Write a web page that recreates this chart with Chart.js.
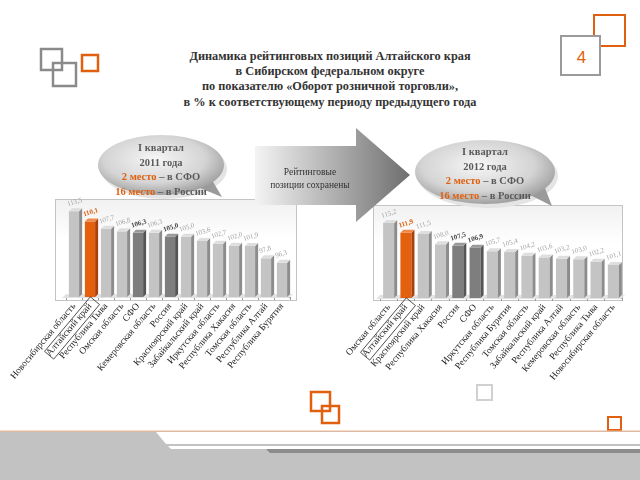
<!DOCTYPE html>
<html lang="ru">
<head>
<meta charset="UTF-8" />
<title>Оборот розничной торговли</title>
<script src="https://cdn.jsdelivr.net/npm/chart.js"></script>
<style>
  body { margin: 0; width: 640px; height: 480px; overflow: hidden; background: #fff; font-family: "Liberation Serif", "DejaVu Serif", serif; }
  .abs { position: absolute; }
  .title { left: 100px; top: 49px; width: 460px; text-align: center; font-weight: bold; font-size: 12.3px; line-height: 15.2px; color: #333; }
  .bubble { text-align: center; font-weight: bold; font-size: 10.5px; line-height: 14.5px; color: #5a5a5a; z-index: 3; }
  .bubble .o { color: #e0600f; }
  .frame { border: 1px solid #c4c4c4; background: linear-gradient(#f1f1f1, #fff 40%); }
  .arrowtxt { left: 245px; top: 166px; width: 130px; text-align: center; font-size: 9.5px; line-height: 13px; color: #333; z-index: 3; }
</style>
</head>
<body>
  <!-- decorations -->
  <svg class="abs" style="left:0;top:0;z-index:1" width="640" height="480">
    <defs>
      <linearGradient id="arr" x1="0" x2="1" y1="0" y2="0">
        <stop offset="0" stop-color="#f4f4f4"/>
        <stop offset="1" stop-color="#6e6e6e"/>
      </linearGradient>
      <radialGradient id="bub" cx="0.45" cy="0.4" r="0.62">
        <stop offset="0" stop-color="#f6f6f6"/>
        <stop offset="0.65" stop-color="#d4d4d4"/>
        <stop offset="1" stop-color="#9c9c9c"/>
      </radialGradient>
    </defs>
    <!-- top-left squares -->
    <rect x="41" y="49" width="21" height="21" fill="none" stroke="#8a8a8a" stroke-width="2.5"/>
    <rect x="53" y="63" width="23" height="23" fill="none" stroke="#8a8a8a" stroke-width="2.5"/>
    <rect x="82" y="55" width="16" height="16" fill="none" stroke="#e0600f" stroke-width="2.5"/>
    <!-- top-right page number -->
    <rect x="594" y="15" width="31" height="31" fill="none" stroke="#e0600f" stroke-width="2"/>
    <rect x="561" y="36" width="39" height="39" fill="#fff" stroke="#9a9a9a" stroke-width="2"/>
    <!-- arrow -->
    <polygon points="255,146 356,146 356,128 410,175 356,222 356,205 255,205" fill="url(#arr)"/>
    <!-- bubbles -->
    <ellipse cx="164" cy="169" rx="63" ry="30" fill="#e4e4e4"/>
    <polygon points="200,188 222,197 212,180" fill="#9a9a9a"/>
    <ellipse cx="161" cy="165" rx="63" ry="30" fill="url(#bub)"/>
    <ellipse cx="488" cy="176" rx="70" ry="32" fill="#e4e4e4"/>
    <polygon points="530,195 552,206 545,188" fill="#9a9a9a"/>
    <ellipse cx="485" cy="172" rx="70" ry="32" fill="url(#bub)"/>
    <!-- bottom squares -->
    <rect x="311" y="392" width="19" height="19" fill="none" stroke="#e0600f" stroke-width="2.5"/>
    <rect x="322" y="406" width="17" height="17" fill="none" stroke="#e0600f" stroke-width="2.5"/>
    <rect x="477" y="385" width="15" height="15" fill="none" stroke="#d0d0d0" stroke-width="2"/>
    <rect x="608" y="417" width="13" height="13" fill="none" stroke="#e0600f" stroke-width="2"/>
    <!-- bottom band -->
    <rect x="0" y="431" width="640" height="49" fill="#c2c2c2"/>
    <line x1="0" y1="431" x2="640" y2="431" stroke="#f2b48e" stroke-width="1"/>
    <polygon points="156,432 640,432 640,444 166,444" fill="#fff"/>
    <polygon points="168,446 640,446 640,449 171,449" fill="#fff"/>
    <polygon points="266,449 640,449 640,453 270,453" fill="#8c8c8c"/>
  </svg>
  <div class="abs" style="left:561px;top:48px;width:41px;text-align:center;font-family:'Liberation Sans',sans-serif;font-size:17px;color:#e0600f;z-index:2">4</div>

  <div class="abs title">Динамика рейтинговых позиций Алтайского края<br>в Сибирском федеральном округе<br>по показателю «Оборот розничной торговли»,<br>в % к соответствующему периоду предыдущего года</div>

  <div class="abs bubble" style="left:100px;top:141px;width:122px">I квартал<br>2011 года<br><span class="o">2 место</span> – в СФО<br><span class="o">16 место</span> – в России</div>
  <div class="abs bubble" style="left:420px;top:145px;width:130px">I квартал<br>2012 года<br><span class="o">2 место</span> – в СФО<br><span class="o">16 место</span> – в России</div>
  <div class="abs arrowtxt">Рейтинговые<br>позиции сохранены</div>

  <div class="abs frame" style="left:55px;top:199px;width:240px;height:100px;z-index:0"></div>
  <div class="abs frame" style="left:373px;top:205px;width:248px;height:94px;z-index:0"></div>

  <canvas id="c2011" class="abs" style="left:0;top:195px;z-index:2" width="300" height="210"></canvas>
  <canvas id="c2012" class="abs" style="left:310px;top:200px;z-index:2" width="330" height="205"></canvas>

<script>
// I квартал 2011 года
const labels2011 = ['Новосибирская область', 'Алтайский край', 'Республика Тыва', 'Омская область', 'СФО',
  'Кемеровская область', 'Россия', 'Красноярский край', 'Забайкальский край', 'Иркутская область',
  'Республика Хакасия', 'Томская область', 'Республика Алтай', 'Республика Бурятия'];
const values2011 = [113.5, 110.1, 107.7, 106.8, 106.3, 106.3, 105.0, 105.0, 103.6, 102.7, 102.0, 101.9, 97.8, 96.3];

// I квартал 2012 года
const labels2012 = ['Омская область', 'Алтайский край', 'Красноярский край', 'Республика Хакасия', 'Россия',
  'СФО', 'Иркутская область', 'Республика Бурятия', 'Томская область', 'Забайкальский край',
  'Республика Алтай', 'Кемеровская область', 'Республика Тыва', 'Новосибирская область'];
const values2012 = [115.2, 111.9, 111.5, 108.0, 107.5, 106.9, 105.7, 105.4, 104.2, 103.6, 103.2, 103.0, 102.2, 101.1];

const HOME = 'Алтайский край';
const DARK = ['СФО', 'Россия'];

function frontColor(l) { return l === HOME ? '#e2600e' : DARK.includes(l) ? '#7e7e7e' : '#c4c4c4'; }
function sideColor(l)  { return l === HOME ? '#a8410a' : DARK.includes(l) ? '#555' : '#8c8c8c'; }
function topColor(l)   { return l === HOME ? '#f08a4a' : DARK.includes(l) ? '#9a9a9a' : '#dedede'; }
function labelColor(l) { return l === HOME ? '#e0600f' : DARK.includes(l) ? '#444' : '#a4a4a4'; }

// 3D side/top faces, floor, value labels and the boxed home label
const bar3d = {
  id: 'bar3d',
  beforeDatasetsDraw(chart) {
    const { ctx, chartArea: a } = chart;
    ctx.save();
    ctx.fillStyle = '#e2e2e2';
    ctx.beginPath();
    ctx.moveTo(a.left - 4, a.bottom + 1);
    ctx.lineTo(a.left, a.bottom - 3);
    ctx.lineTo(a.right + 3, a.bottom - 3);
    ctx.lineTo(a.right - 1, a.bottom + 1);
    ctx.closePath();
    ctx.fill();
    ctx.restore();
  },
  afterDatasetsDraw(chart) {
    const ctx = chart.ctx;
    const labels = chart.data.labels;
    const vals = chart.data.datasets[0].data;
    const d = 3;
    chart.getDatasetMeta(0).data.forEach((bar, i) => {
      const p = bar.getProps(['x', 'y', 'base', 'width'], true);
      const l = p.x - p.width / 2, r = p.x + p.width / 2;
      const lab = labels[i];
      ctx.save();
      ctx.fillStyle = sideColor(lab);
      ctx.beginPath();
      ctx.moveTo(r, p.y); ctx.lineTo(r + d, p.y - d); ctx.lineTo(r + d, p.base - d); ctx.lineTo(r, p.base);
      ctx.closePath(); ctx.fill();
      ctx.fillStyle = topColor(lab);
      ctx.beginPath();
      ctx.moveTo(l, p.y); ctx.lineTo(l + d, p.y - d); ctx.lineTo(r + d, p.y - d); ctx.lineTo(r, p.y);
      ctx.closePath(); ctx.fill();
      ctx.translate(l - 1, p.y - d - 2);
      ctx.rotate(-0.3);
      ctx.fillStyle = labelColor(lab);
      ctx.font = (lab === HOME || DARK.includes(lab) ? 'bold ' : '') + '7px "Liberation Serif"';
      ctx.fillText(vals[i].toFixed(1).replace('.', ','), 0, 0);
      ctx.restore();
    });
    // box around the home region's axis label
    const idx = labels.indexOf(HOME);
    const xs = chart.scales.x;
    const ang = 50 * Math.PI / 180;
    ctx.save();
    ctx.font = '9.5px "Liberation Serif"';
    const w = ctx.measureText(HOME).width;
    ctx.translate(xs.getPixelForValue(idx) + 3, chart.chartArea.bottom + 6);
    ctx.rotate(-ang);
    ctx.strokeStyle = '#333';
    ctx.lineWidth = 0.8;
    ctx.strokeRect(-w - 3, -6, w + 6, 12);
    ctx.restore();
  }
};

function makeChart(id, labels, values, yMin, yMax, pad, axisH) {
  return new Chart(document.getElementById(id), {
    type: 'bar',
    data: {
      labels: labels,
      datasets: [{
        data: values,
        base: yMin,
        backgroundColor: labels.map(frontColor),
        borderWidth: 0,
        categoryPercentage: 1,
        barPercentage: 0.64
      }]
    },
    options: {
      responsive: false,
      animation: false,
      layout: { padding: pad },
      plugins: { legend: { display: false }, tooltip: { enabled: false } },
      scales: {
        y: { display: false, min: yMin, max: yMax },
        x: {
          grid: { drawOnChartArea: false, drawTicks: true, tickLength: 3, color: '#999' },
          border: { display: true, color: '#999' },
          ticks: {
            autoSkip: false, minRotation: 50, maxRotation: 50, padding: 1,
            color: '#222', font: { family: 'Liberation Serif', size: 9.5 }
          },
          afterFit(scale) {
            scale.height = axisH;
            scale.paddingLeft = 0;
            scale.paddingRight = 0;
          }
        }
      }
    },
    plugins: [bar3d]
  });
}

makeChart('c2011', labels2011, values2011, 84.9, 117.6, { left: 66, right: 10, top: 4, bottom: 0 }, 108);
makeChart('c2012', labels2012, values2012, 90.0, 121.2, { left: 70, right: 18, top: 5, bottom: 0 }, 107);
</script>
</body>
</html>
